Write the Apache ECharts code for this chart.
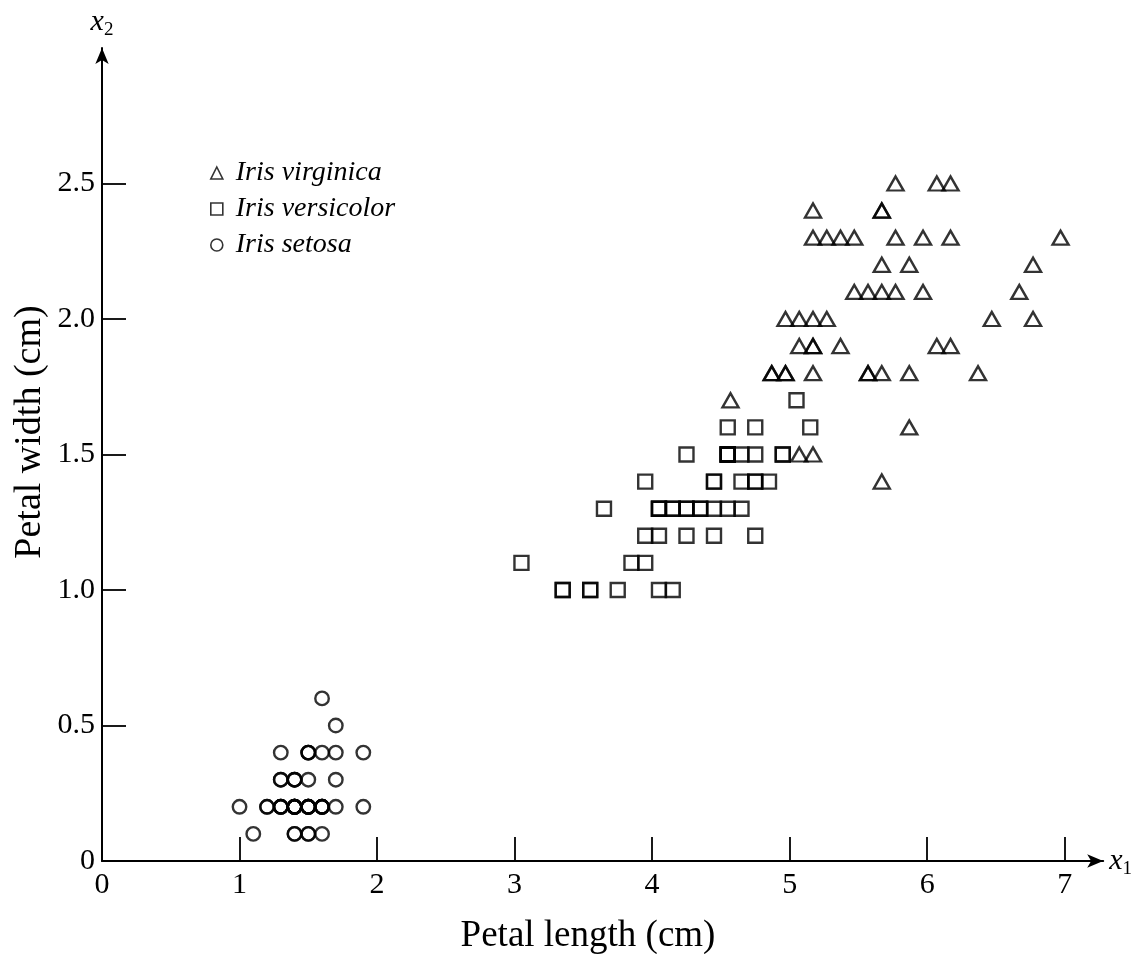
<!DOCTYPE html>
<html>
<head>
<meta charset="utf-8">
<title>Iris petal length / width</title>
<script src="https://cdn.jsdelivr.net/npm/echarts@6/dist/echarts.min.js"></script>
<style>
  html, body { margin: 0; padding: 0; background: #fff; }
  #main { width: 1135px; height: 954px; }
</style>
</head>
<body>
<div id="main"></div>
<script>
// tick positions and labels
var xTicks = [0, 1, 2, 3, 4, 5, 6, 7];
var yTicks = [0, 0.5, 1.0, 1.5, 2.0, 2.5];
var yTickLabels = ['0', '0.5', '1.0', '1.5', '2.0', '2.5'];

// [petal length, petal width]
var virginicaData = [
    [6.07, 2.5], [5.17, 1.9], [5.97, 2.1], [5.67, 1.8], [5.87, 2.2], [6.67, 2.1], [4.57, 1.7], [6.37, 1.8], [5.87, 1.8], [6.17, 2.5],
    [5.17, 2.0], [5.37, 1.9], [5.57, 2.1], [5.07, 2.0], [5.17, 2.4], [5.37, 2.3], [5.57, 1.8], [6.77, 2.2], [6.97, 2.3], [5.07, 1.5],
    [5.77, 2.3], [4.97, 2.0], [6.77, 2.0], [4.97, 1.8], [5.77, 2.1], [6.07, 1.9], [4.87, 1.8], [4.97, 1.8], [5.67, 2.1], [5.87, 1.6],
    [6.17, 1.9], [6.47, 2.0], [5.67, 2.2], [5.17, 1.5], [5.67, 1.4], [6.17, 2.3], [5.67, 2.4], [5.57, 1.8], [4.87, 1.8], [5.47, 2.1],
    [5.67, 2.4], [5.17, 2.3], [5.17, 1.9], [5.97, 2.3], [5.77, 2.5], [5.27, 2.3], [5.07, 1.9], [5.27, 2.0], [5.47, 2.3], [5.17, 1.8]
];
var versicolorData = [
    [4.75, 1.4], [4.55, 1.5], [4.95, 1.5], [4.05, 1.3], [4.65, 1.5], [4.55, 1.3], [4.75, 1.6], [3.35, 1.0], [4.65, 1.3], [3.95, 1.4],
    [3.55, 1.0], [4.25, 1.5], [4.05, 1.0], [4.75, 1.4], [3.65, 1.3], [4.45, 1.4], [4.55, 1.5], [4.15, 1.0], [4.55, 1.5], [3.95, 1.1],
    [4.05, 1.3], [4.95, 1.5], [4.75, 1.2], [4.35, 1.3], [4.45, 1.4], [4.85, 1.4], [5.05, 1.7], [4.55, 1.5], [3.55, 1.0],
    [3.85, 1.1], [3.75, 1.0], [3.95, 1.2], [5.15, 1.6], [4.55, 1.5], [4.55, 1.6], [4.75, 1.5], [4.45, 1.3], [4.15, 1.3], [4.05, 1.3],
    [4.45, 1.2], [4.65, 1.4], [4.05, 1.2], [3.35, 1.0], [4.25, 1.3], [4.25, 1.2], [4.25, 1.3], [4.35, 1.3], [3.05, 1.1], [4.15, 1.3]
];
var setosaData = [
    [1.4, 0.2], [1.4, 0.2], [1.3, 0.2], [1.5, 0.2], [1.4, 0.2], [1.7, 0.4], [1.4, 0.3], [1.5, 0.2], [1.4, 0.2], [1.5, 0.1],
    [1.5, 0.2], [1.6, 0.2], [1.4, 0.1], [1.1, 0.1], [1.2, 0.2], [1.5, 0.4], [1.3, 0.4], [1.4, 0.3], [1.7, 0.3], [1.5, 0.3],
    [1.7, 0.2], [1.5, 0.4], [1.0, 0.2], [1.7, 0.5], [1.9, 0.2], [1.6, 0.2], [1.6, 0.4], [1.5, 0.2], [1.4, 0.2], [1.6, 0.2],
    [1.6, 0.2], [1.5, 0.4], [1.5, 0.1], [1.4, 0.2], [1.5, 0.2], [1.2, 0.2], [1.3, 0.2], [1.4, 0.1], [1.3, 0.2], [1.5, 0.2],
    [1.3, 0.3], [1.3, 0.3], [1.3, 0.2], [1.6, 0.6], [1.9, 0.4], [1.4, 0.3], [1.6, 0.2], [1.4, 0.2], [1.6, 0.1], [1.4, 0.2]
];

var serif = '"Liberation Serif", "DejaVu Serif", serif';
var ink = '#000';

var chart = echarts.init(document.getElementById('main'));

// hollow black markers
var markStyle = {
    color: 'rgba(0,0,0,0)',
    borderColor: ink,
    borderWidth: 2.4
};

// x1 / x2 axis names
var nameRich = {
    v: {fontFamily: serif, fontStyle: 'italic', fontSize: 30, color: ink},
    s: {fontFamily: serif, fontSize: 19, color: ink, verticalAlign: 'bottom', padding: [16, 0, 0, 0]}
};

var option = {
    backgroundColor: '#fff',
    animation: false,
    grid: {
        left: 102,
        top: 48,
        width: 1006,
        height: 813
    },
    legend: {
        orient: 'vertical',
        left: 205,
        top: 153,
        itemWidth: 12,
        itemHeight: 12,
        itemGap: 6,
        data: ['Iris virginica', 'Iris versicolor', 'Iris setosa'],
        itemStyle: {borderWidth: 1.6},
        textStyle: {
            fontFamily: serif,
            fontStyle: 'italic',
            fontSize: 28,
            lineHeight: 30,
            color: ink,
            padding: [0, 0, 0, 8]
        }
    },
    xAxis: {
        type: 'value',
        min: 0,
        max: 7.28,
        name: '{v|x}{s|1}',
        nameLocation: 'end',
        nameGap: 6,
        nameTextStyle: {rich: nameRich},
        axisLine: {
            lineStyle: {color: ink, width: 2},
            symbol: ['none', 'arrow'],
            symbolSize: [10, 16]
        },
        axisTick: {
            inside: true,
            length: 24,
            customValues: xTicks,
            lineStyle: {color: ink, width: 1.8}
        },
        axisLabel: {
            customValues: xTicks,
            margin: 9,
            fontFamily: serif,
            fontSize: 30,
            color: ink
        },
        splitLine: {show: false}
    },
    yAxis: {
        type: 'value',
        min: 0,
        max: 3,
        name: '{v|x}{s|2}',
        nameLocation: 'end',
        nameGap: 8,
        nameTextStyle: {rich: nameRich},
        axisLine: {
            lineStyle: {color: ink, width: 2},
            symbol: ['none', 'arrow'],
            symbolSize: [10, 16]
        },
        axisTick: {
            inside: true,
            length: 24,
            customValues: yTicks,
            lineStyle: {color: ink, width: 1.8}
        },
        axisLabel: {
            customValues: yTicks,
            margin: 7,
            fontFamily: serif,
            fontSize: 30,
            color: ink,
            formatter: function (value) {
                return yTickLabels[yTicks.indexOf(value)];
            }
        },
        splitLine: {show: false}
    },
    // axis titles
    graphic: [
        {
            type: 'text',
            x: 588,
            y: 936,
            style: {
                text: 'Petal length (cm)',
                font: '37px ' + serif,
                fill: ink,
                align: 'center',
                verticalAlign: 'middle'
            }
        },
        {
            type: 'text',
            x: 30,
            y: 432,
            rotation: Math.PI / 2,
            style: {
                text: 'Petal width (cm)',
                font: '38px ' + serif,
                fill: ink,
                align: 'center',
                verticalAlign: 'middle'
            }
        }
    ],
    series: [
        {
            name: 'Iris virginica',
            type: 'scatter',
            symbol: 'triangle',
            symbolSize: [16, 14],
            itemStyle: markStyle,
            data: virginicaData
        },
        {
            name: 'Iris versicolor',
            type: 'scatter',
            symbol: 'rect',
            symbolSize: 14,
            itemStyle: markStyle,
            data: versicolorData
        },
        {
            name: 'Iris setosa',
            type: 'scatter',
            symbol: 'circle',
            symbolSize: 13.5,
            itemStyle: markStyle,
            data: setosaData
        }
    ]
};

chart.setOption(option);

window.addEventListener('resize', function () {
    chart.resize();
});
</script>
</body>
</html>
